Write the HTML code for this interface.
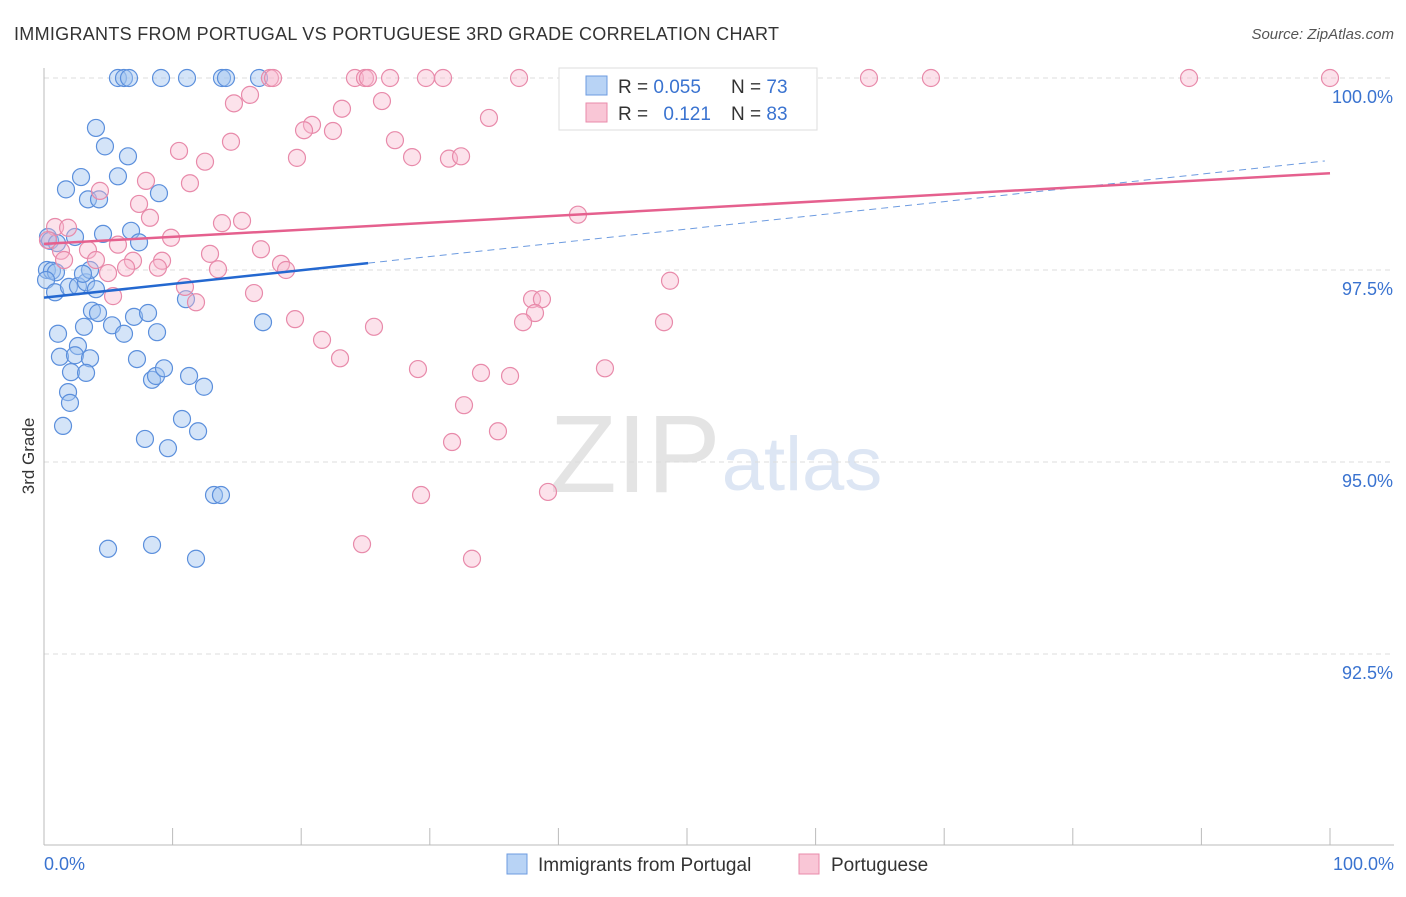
<!DOCTYPE html>
<html><head><meta charset="utf-8"><style>
body{margin:0;background:#fff;font-family:"Liberation Sans",sans-serif}
svg text{font-family:"Liberation Sans",sans-serif}
</style></head><body>
<svg id="chart" width="1406" height="892">
<text x="14" y="40" font-size="18" fill="#333" textLength="765">IMMIGRANTS FROM PORTUGAL VS PORTUGUESE 3RD GRADE CORRELATION CHART</text>
<text x="1394" y="39" font-size="15" fill="#555" font-style="italic" text-anchor="end">Source: ZipAtlas.com</text>
<text transform="translate(34,456) rotate(-90)" font-size="17" fill="#333" text-anchor="middle">3rd Grade</text>
<g><text x="635" y="492" font-size="110" fill="#e4e4e4" text-anchor="middle" font-family="Liberation Serif">ZIP</text><text x="802" y="490" font-size="76" fill="#dde6f4" text-anchor="middle">atlas</text></g>
<g id="grid"></g><g id="axes"></g><g id="pts"></g><g id="lines"></g>
<g>
<rect x="559" y="68" width="258" height="62" fill="#fff" stroke="#ddd"/>
<rect x="586" y="76" width="21" height="19" fill="#b8d3f5" stroke="#6d9be0"/>
<rect x="586" y="103" width="21" height="19" fill="#f9c6d6" stroke="#e98bab"/>
<text x="618" y="93" font-size="19" fill="#333">R = <tspan fill="#3a73d0">0.055</tspan></text>
<text x="731" y="93" font-size="19" fill="#333">N = <tspan fill="#3a73d0">73</tspan></text>
<text x="618" y="120" font-size="19" fill="#333">R = <tspan fill="#3a73d0" dx="10">0.121</tspan></text>
<text x="731" y="120" font-size="19" fill="#333">N = <tspan fill="#3a73d0">83</tspan></text>
</g>
<g>
<rect x="507" y="854" width="20" height="20" fill="#b8d3f5" stroke="#6d9be0"/>
<text x="538" y="871" font-size="19" fill="#333">Immigrants from Portugal</text>
<rect x="799" y="854" width="20" height="20" fill="#f9c6d6" stroke="#e98bab"/>
<text x="831" y="871" font-size="19" fill="#333">Portuguese</text>
</g>
</svg>
<script>
const yTicks=[100,97.5,95,92.5];
const yTickLabels=["100.0%","97.5%","95.0%","92.5%"];
const xLabels=["0.0%","100.0%"];
const blueX=[5.75,6.22,6.61,9.10,11.12,13.84,14.15,16.72,4.04,4.74,6.53,1.71,2.88,5.75,8.94,3.42,4.28,4.59,6.77,7.39,0.31,0.47,1.01,2.41,0.23,0.62,0.93,0.16,0.86,1.94,2.64,3.27,3.58,3.03,4.04,3.73,4.20,5.29,6.22,7.0,8.09,8.79,11.04,1.09,3.11,2.64,1.24,2.41,3.58,2.10,3.27,7.23,8.40,8.71,9.33,11.28,12.44,1.87,2.02,1.48,7.85,9.64,10.73,11.98,17.03,13.22,13.76,4.98,8.40,11.82];
const blueY=[100,100,100,100,100,100,100,100,99.35,99.11,98.98,98.55,98.71,98.72,98.50,98.42,98.42,97.97,98.01,97.86,97.93,97.88,97.85,97.93,97.50,97.49,97.47,97.37,97.21,97.28,97.29,97.34,97.50,97.45,97.25,96.97,96.94,96.78,96.67,96.89,96.94,96.69,97.12,96.67,96.76,96.51,96.37,96.39,96.35,96.17,96.16,96.34,96.07,96.12,96.22,96.12,95.98,95.91,95.77,95.47,95.30,95.18,95.56,95.40,96.82,94.57,94.57,93.87,93.92,93.74];
const pinkX=[17.57,17.81,24.18,24.96,25.19,26.91,29.70,31.03,36.94,64.15,68.97,89.04,100,16.02,14.77,26.28,23.17,34.60,20.84,20.22,22.47,14.54,27.29,10.50,19.67,28.62,31.49,32.43,12.52,7.93,11.35,4.35,7.39,8.24,0.86,1.87,13.84,15.40,41.52,9.88,0.31,5.75,3.42,1.32,12.91,16.87,1.56,4.04,6.92,9.18,18.43,6.38,8.86,13.53,18.82,4.98,5.37,16.33,10.96,11.82,48.68,37.95,38.72,38.18,37.25,48.21,19.52,25.66,21.62,23.02,29.08,33.98,36.24,43.62,32.66,35.30,31.73,29.32,39.19,24.73,33.28];
const pinkY=[100,100,100,100,100,100,100,100,100,100,100,100,100,99.78,99.67,99.70,99.60,99.48,99.39,99.32,99.31,99.17,99.19,99.05,98.96,98.97,98.95,98.98,98.91,98.66,98.63,98.53,98.36,98.18,98.06,98.05,98.11,98.14,98.22,97.92,97.89,97.83,97.76,97.75,97.71,97.77,97.63,97.63,97.62,97.62,97.58,97.53,97.53,97.51,97.50,97.46,97.16,97.20,97.28,97.08,97.36,97.12,97.12,96.94,96.82,96.82,96.86,96.76,96.59,96.35,96.21,96.16,96.12,96.22,95.74,95.40,95.26,94.57,94.61,93.93,93.74];
const blueTrend=[97.14,97.59,98.92];
const blueTrendX=[0,25.2,99.6];
const pinkTrend=[97.84,98.76];
const pinkTrendX=[0,100];
const NS="http://www.w3.org/2000/svg";
const X=v=>44+v*12.86, Y=v=>78+(100-v)*76.8;
function mk(t,a,p){const e=document.createElementNS(NS,t);for(const k in a)e.setAttribute(k,a[k]);document.getElementById(p).appendChild(e);return e;}
yTicks.forEach((t,i)=>{
 const g=mk('line',{x1:44,x2:1394,y1:Y(t),y2:Y(t),stroke:'#ddd','stroke-dasharray':'5,4'},'grid');
 
 
 const l=mk('text',{x:1393,y:Y(t)+25,'font-size':18,fill:'#3a73d0','text-anchor':'end'},'axes');l.textContent=yTickLabels[i];
 
 
});
mk('line',{x1:44,x2:44,y1:68,y2:845,stroke:'#bbb'},'axes');
mk('line',{x1:44,x2:1394,y1:845,y2:845,stroke:'#bbb'},'axes');
for(let i=0;i<=10;i++){const t=mk('line',{x1:X(i*10),x2:X(i*10),y1:828,y2:845,stroke:'#bbb'},'axes');
 
 }
[[0,'start',44],[1,'end',1394]].forEach(([i,a,x])=>{const t=mk('text',{x:x,y:870,'font-size':18,fill:'#3a73d0','text-anchor':a},'axes');t.textContent=xLabels[i];
 
 });
blueX.forEach((v,i)=>{const c=mk('circle',{cx:X(v),cy:Y(blueY[i]),r:8.5,fill:'rgba(160,196,240,0.45)',stroke:'#5b8fdc','stroke-width':1.2},'pts');
 
 });
pinkX.forEach((v,i)=>{const c=mk('circle',{cx:X(v),cy:Y(pinkY[i]),r:8.5,fill:'rgba(248,182,204,0.4)',stroke:'#e88aaa','stroke-width':1.2},'pts');
 
 });
let b=mk('line',{x1:X(blueTrendX[0]),y1:Y(blueTrend[0]),x2:X(blueTrendX[1]),y2:Y(blueTrend[1]),stroke:'#2468d0','stroke-width':2.5},'lines');


let bd=mk('line',{x1:X(blueTrendX[1]),y1:Y(blueTrend[1]),x2:X(blueTrendX[2]),y2:Y(blueTrend[2]),stroke:'#6d9be0','stroke-width':1,'stroke-dasharray':'7,5'},'lines');


let p=mk('line',{x1:X(pinkTrendX[0]),y1:Y(pinkTrend[0]),x2:X(pinkTrendX[1]),y2:Y(pinkTrend[1]),stroke:'#e5608e','stroke-width':2.5},'lines');


</script>
</body></html>
